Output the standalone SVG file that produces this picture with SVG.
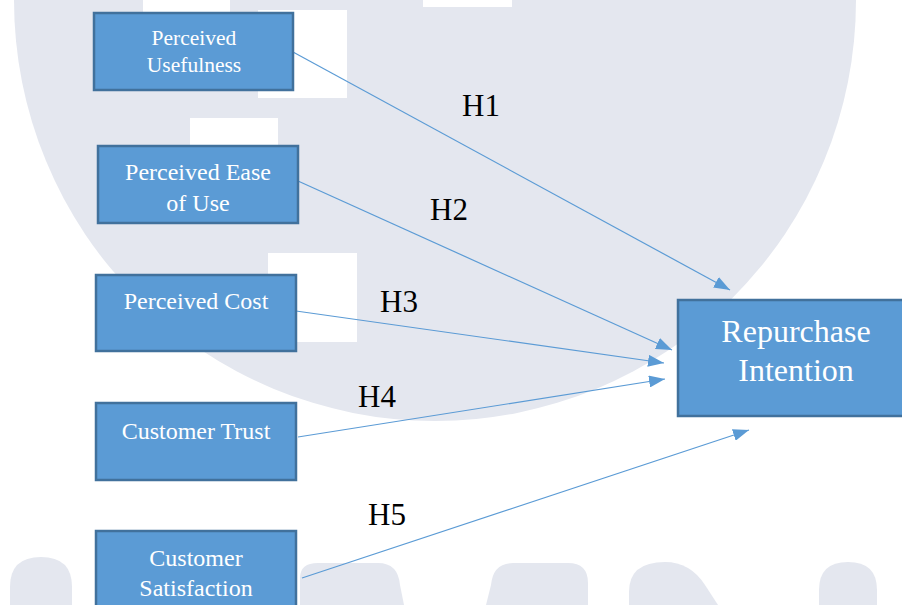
<svg xmlns="http://www.w3.org/2000/svg" width="902" height="605" viewBox="0 0 902 605">
  <defs>
    <style>
      .bg { fill: #e4e7ef; }
      .gap { fill: #ffffff; }
      .box { fill: #5b9bd5; stroke: #41719c; stroke-width: 2.5; }
      .lbl { fill: #ffffff; font-family: "Liberation Serif", "Times New Roman", serif; text-anchor: middle; }
      .hyp { fill: #000000; font-family: "Liberation Serif", "Times New Roman", serif; font-size: 31px; }
      .link { stroke: #5b9bd5; stroke-width: 1.2; fill: none; marker-end: url(#tip); }
    </style>
    <marker id="tip" viewBox="0 0 16 12" refX="16" refY="6" markerWidth="16" markerHeight="12" markerUnits="userSpaceOnUse" orient="auto">
      <path d="M0,0 L16,6 L0,12 Z" fill="#5b9bd5"/>
    </marker>
  </defs>

  <rect width="902" height="605" fill="#ffffff"/>

  <!-- faint background emblem -->
  <g id="emblem">
    <circle class="bg" cx="435" cy="0" r="421"/>
    <rect class="gap" x="143" y="0" width="87" height="14"/>
    <rect class="gap" x="258" y="10" width="89" height="88"/>
    <rect class="gap" x="423" y="0" width="89" height="7"/>
    <rect class="gap" x="190" y="118" width="88" height="30"/>
    <rect class="gap" x="268" y="253" width="89" height="89"/>
    <path class="bg" d="M10,605 L10,587 Q10,557 41,557 Q72,557 72,587 L72,605 Z"/>
    <path class="bg" d="M300,605 L300,578 Q300,563 318,563 L378,563 Q398,563 400,585 L404,605 Z"/>
    <path class="bg" d="M486,605 L491,585 Q493,563 513,563 L568,563 Q588,563 588,583 L588,605 Z"/>
    <path class="bg" d="M629,605 L629,592 Q629,562 665,562 Q690,562 705,585 L718,605 Z"/>
    <path class="bg" d="M819,605 L819,590 Q819,562 848,562 Q877,562 877,590 L877,605 Z"/>
  </g>

  <!-- connectors -->
  <g id="connectors">
    <line class="link" x1="293" y1="52" x2="730" y2="290"/>
    <line class="link" x1="298" y1="181" x2="672" y2="350"/>
    <line class="link" x1="296" y1="311" x2="664" y2="363"/>
    <line class="link" x1="298" y1="437" x2="665" y2="379"/>
    <line class="link" x1="302" y1="578" x2="749" y2="430"/>
  </g>

  <!-- hypothesis labels -->
  <g id="labels">
    <text class="hyp" x="462" y="116">H1</text>
    <text class="hyp" x="430" y="220">H2</text>
    <text class="hyp" x="380" y="312">H3</text>
    <text class="hyp" x="358" y="407">H4</text>
    <text class="hyp" x="368" y="525">H5</text>
  </g>

  <g id="perceived-usefulness">
    <rect class="box" x="94" y="13" width="199" height="77"/>
    <text class="lbl" font-size="21.5" x="194" y="45">Perceived</text>
    <text class="lbl" font-size="21.5" x="194" y="72">Usefulness</text>
  </g>

  <g id="perceived-ease-of-use">
    <rect class="box" x="98" y="146" width="200" height="77"/>
    <text class="lbl" font-size="24" x="198" y="180">Perceived Ease</text>
    <text class="lbl" font-size="24" x="198" y="211">of Use</text>
  </g>

  <g id="perceived-cost">
    <rect class="box" x="96" y="275" width="200" height="76"/>
    <text class="lbl" font-size="24" x="196" y="309">Perceived Cost</text>
  </g>

  <g id="customer-trust">
    <rect class="box" x="96" y="403" width="200" height="77"/>
    <text class="lbl" font-size="24" x="196" y="439">Customer Trust</text>
  </g>

  <g id="customer-satisfaction">
    <rect class="box" x="96" y="531" width="200" height="90"/>
    <text class="lbl" font-size="24" x="196" y="566">Customer</text>
    <text class="lbl" font-size="24" x="196" y="596">Satisfaction</text>
  </g>

  <g id="repurchase-intention">
    <rect class="box" x="678" y="300" width="240" height="116"/>
    <text class="lbl" font-size="32" x="796" y="342">Repurchase</text>
    <text class="lbl" font-size="32" x="796" y="381">Intention</text>
  </g>
</svg>
